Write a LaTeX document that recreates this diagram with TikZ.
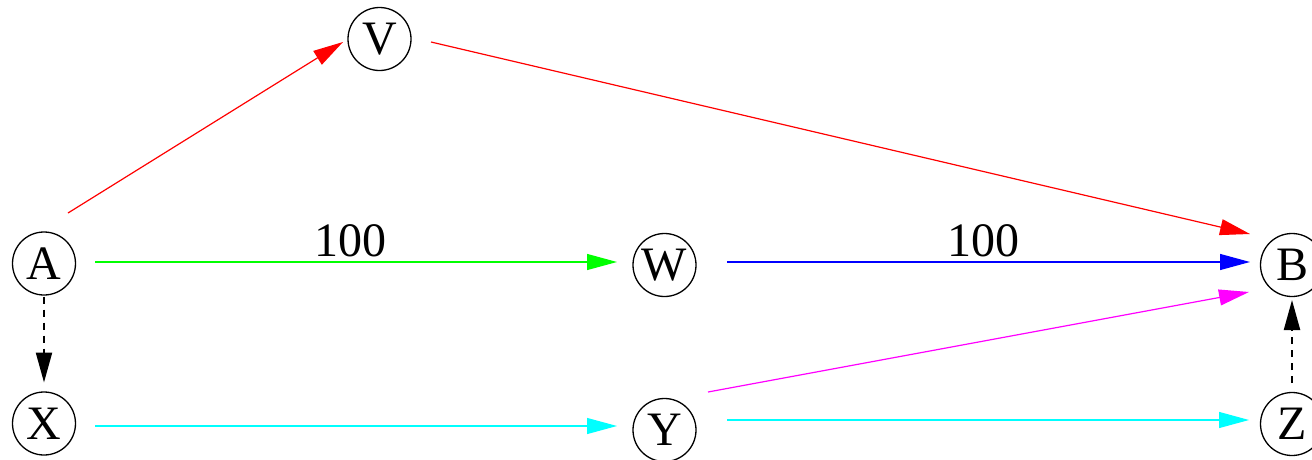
\documentclass[tikz,border=0pt]{standalone}
\usepackage{fontspec}
\setmainfont{Liberation Serif}
\usetikzlibrary{arrows.meta,calc}
\definecolor{ered}{RGB}{255,0,0}
\definecolor{egreen}{RGB}{0,255,0}
\definecolor{eblue}{RGB}{0,0,255}
\definecolor{emag}{RGB}{255,0,255}
\definecolor{ecyan}{RGB}{0,255,255}
\begin{document}
\begin{tikzpicture}[x=1pt,y=-1pt,
  vnode/.style={circle,draw,line width=1.3pt,minimum size=63pt,inner sep=0pt,font=\fontsize{48}{48}\selectfont},
  edge/.style={line width=1.2pt,-{Triangle[length=30pt,width=16pt]}},
  dashedge/.style={edge,black,line width=2.2pt,dash pattern=on 7pt off 6pt},
  elabel/.style={font=\fontsize{48}{48}\selectfont,inner sep=0pt,anchor=south,text=black}]
\useasboundingbox (0,0) rectangle (1312,459);
\node[vnode] (A) at (44,263.5) {A};
\node[vnode] (V) at (379.5,39) {V};
\node[vnode] (W) at (664.5,265) {W};
\node[vnode] (Y) at (664.5,430) {Y};
\node[vnode] (B) at (1292,265) {B};
\node[vnode] (X) at (44,423.5) {X};
\node[vnode] (Z) at (1292,424) {Z};
\draw[edge,ered] ($(A)+(24,-50.5)$) -- ($(V)+(-36.5,3)$);
\draw[edge,ered] ($(V)+(51.5,3)$) -- ($(B)+(-42,-31)$);
\draw[edge,egreen] ($(A)+(51,-1.5)$) -- node[pos=0.49,elabel,yshift=4pt] (l1) {100} ($(W)+(-47.5,-3)$);
\draw[edge,eblue] ($(W)+(62.5,-3)$) -- node[pos=0.49,elabel,yshift=4pt] (l2) {100} ($(B)+(-42,-3)$);
\draw[edge,emag] ($(Y)+(43.5,-38)$) -- ($(B)+(-43,27)$);
\draw[edge,ecyan] ($(X)+(51,2.5)$) -- ($(Y)+(-47.5,-4)$);
\draw[edge,ecyan] ($(Y)+(62.5,-10)$) -- ($(Z)+(-43,-4)$);
\draw[dashedge] ($(A)+(0,33)$) -- ($(X)+(0,-41)$);
\draw[dashedge] ($(Z)+(0,-41)$) -- ($(B)+(0,35)$);
\end{tikzpicture}
\end{document}
